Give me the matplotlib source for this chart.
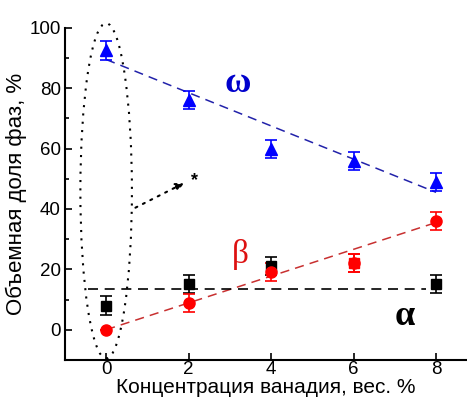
import numpy as np
import matplotlib.pyplot as plt
from matplotlib.patches import Ellipse

# Концентрация ванадия, вес. %
conc = [0, 2, 4, 6, 8]

# Объемные доли фаз, %
omega = [92.5, 76, 60, 56, 49]
omega_err = [3, 3, 3, 3, 3]
beta = [0, 8.7, 19, 22, 36]
beta_err = [0, 3, 3, 3, 3]
alpha_x = [0, 2, 4, 8]
alpha = [8, 15, 21, 15]
alpha_err = [3, 3, 3, 3]

# линии тренда (концы)
omega_fit = [89.5, 45.5]
beta_fit = [0, 35.5]
alpha_level = 13.5

plt.rcParams['font.family'] = ['Liberation Sans', 'DejaVu Sans']

fig = plt.figure(figsize=(4.67, 4.03), dpi=100)
ax = fig.add_axes([0.139, 0.107, 0.861, 0.824])

ax.plot([0, 8], omega_fit, '--', color='#2222aa', lw=1.1, dashes=(6, 4))
ax.plot([0, 8], beta_fit, '--', color='#c83030', lw=1.1, dashes=(6, 4))
ax.plot([-0.45, 7.75], [alpha_level, alpha_level], '--', color='black', lw=1.2, dashes=(6, 4))

ekw = dict(capsize=4, elinewidth=1.2, capthick=1.2, ls='none')
ax.errorbar(alpha_x, alpha, yerr=alpha_err, marker='s', ms=7, color='black', **ekw)
# квадрат при 6 % перекрыт красной точкой
ax.errorbar([conc[3]], [beta[3]], yerr=[beta_err[3]], marker='s', ms=7, color='red', **ekw)
ax.errorbar(conc, beta, yerr=beta_err, marker='o', ms=8, color='red', **ekw)
ax.errorbar(conc, omega, yerr=omega_err, marker='^', ms=8, color='blue', **ekw)

# выделение образца без ванадия
ell = Ellipse((0, 46), 1.25, 111, fill=False, ls=(0, (1, 3)), lw=1.5,
              color='black', clip_on=False)
ax.add_patch(ell)
ax.annotate('', xy=(1.95, 49), xytext=(0.65, 40),
            arrowprops=dict(arrowstyle='-|>', ls=(0, (1, 3)), lw=1.5,
                            color='black', mutation_scale=12))
ax.text(2.05, 49.5, '*', fontsize=13, fontweight='bold', ha='left', va='center')

ax.text(3.2, 81.5, 'ω', color='#0000cc', fontsize=26, fontweight='bold',
        family='Liberation Serif', ha='center', va='center')
ax.text(3.25, 25, 'β', color='#dd1111', fontsize=24,
        family='Liberation Serif', ha='center', va='center')
ax.text(7.25, 4.5, 'α', color='black', fontsize=26, fontweight='bold',
        family='Liberation Serif', ha='center', va='center')

ax.set_xlim(-1, 8.75)
ax.set_ylim(-10, 100)
ax.set_xticks([0, 2, 4, 6, 8])
ax.set_yticks([0, 20, 40, 60, 80, 100])
ax.set_yticks(np.arange(-10, 100, 20), minor=True)
ax.tick_params(direction='in', labelsize=13.5, width=1.2, length=5, pad=3)
ax.tick_params(axis='x', pad=1)
ax.tick_params(which='minor', direction='in', width=1.2, length=3)
ax.spines['top'].set_visible(False)
ax.spines['right'].set_visible(False)
ax.spines['left'].set_linewidth(1.5)
ax.spines['bottom'].set_linewidth(1.5)

ax.set_xlabel('Концентрация ванадия, вес. %', fontsize=15, labelpad=0)
ax.set_ylabel('Объемная доля фаз, %', fontsize=16, labelpad=2)

fig.savefig('out.png', dpi=100)
